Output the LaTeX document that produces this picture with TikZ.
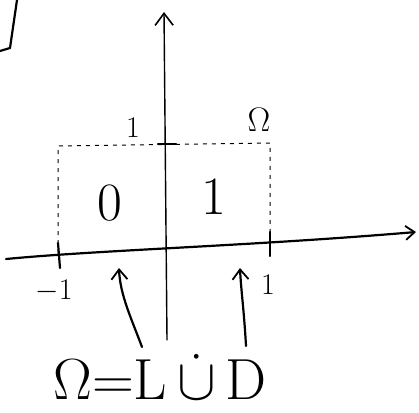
\RequirePackage{fix-cm}
\documentclass[tikz,border=0pt]{standalone}
\usetikzlibrary{arrows.meta}
\begin{document}
\begin{tikzpicture}[x=1pt,y=-1pt,
  ink/.style={line width=2.2pt,line cap=round,line join=round},
  thinink/.style={line width=1.4pt,line cap=round},
  dashink/.style={line width=1pt,dash pattern=on 4pt off 5pt},
  barb/.style={-{Straight Barb[length=10pt,width=16pt,line width=1.8pt]}},
  lbl/.style={inner sep=0pt,font=\fontsize{54}{56}\selectfont},
  small/.style={inner sep=0pt,font=\fontsize{30}{32}\selectfont}]
\useasboundingbox (0,0) rectangle (419,412);
% corner stroke top-left
\coordinate (c1) at (0,51);
\coordinate (c2) at (10,48);
\coordinate (c3) at (17,0);
\draw[ink] (c1) -- (c2) -- (c3);
% axes
\coordinate (yb) at (167,340);
\coordinate (yt) at (164,12);
\draw[thinink,-{Straight Barb[length=12pt,width=18pt,line width=1.6pt]}] (yb) -- (yt);
\coordinate (xl) at (6,259);
\coordinate (xr) at (416,232);
\draw[ink,-{Straight Barb[length=9pt,width=14pt,line width=1.8pt]}] (xl) .. controls (100,250) and (250,246) .. (xr);
% dashed rectangle
\coordinate (bl) at (58,253);
\coordinate (tl) at (58,146);
\coordinate (tr) at (270,143);
\coordinate (br) at (270,245);
\draw[dashink] (bl) -- (tl) -- (tr) -- (br);
% ticks
\coordinate (t1a) at (58,243); \coordinate (t1b) at (60,268);
\draw[ink] (t1a) -- (t1b);
\coordinate (t2a) at (270,232); \coordinate (t2b) at (270,256);
\draw[ink] (t2a) -- (t2b);
\coordinate (t3a) at (158,144); \coordinate (t3b) at (176,144);
\draw[ink] (t3a) -- (t3b);
% labels
\node[small] (one) at (133,128) {$1$};
\node[inner sep=0pt,font=\fontsize{34}{36}\selectfont] (om) at (259,120) {$\Omega$};
\node[lbl] (zero) at (110,203) {$0$};
\node[lbl] (oneb) at (214,197) {$1$};
\node[small] (mone) at (54,291) {$-1$};
\node[small] (onec) at (268,285) {$1$};
% bottom formula
\node[inner sep=0pt,font=\fontsize{58}{60}\selectfont] (eq) at (160,377) {$\Omega{=}\mathrm{L}\,\dot\cup\,\mathrm{D}$};
% arrows to L and D
\coordinate (la) at (142,347);
\coordinate (lb) at (119,268);
\draw[ink,barb] (la) .. controls (132,320) and (120,295) .. (lb);
\coordinate (ra) at (246,346);
\coordinate (rb) at (240,268);
\draw[ink,barb] (ra) .. controls (244,310) and (241,290) .. (rb);
\end{tikzpicture}
\end{document}
